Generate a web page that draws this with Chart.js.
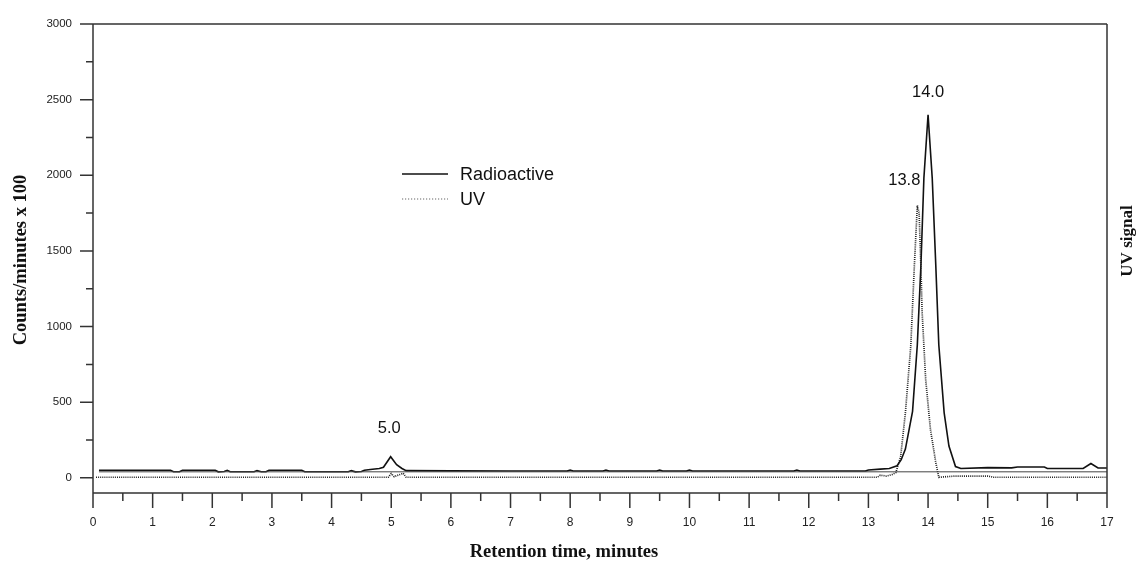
<!DOCTYPE html>
<html>
<head>
<meta charset="utf-8">
<script src="https://cdn.jsdelivr.net/npm/chart.js@4.4.1/dist/chart.umd.min.js"></script>
<style>
  html, body { margin: 0; padding: 0; background: #ffffff; }
  #wrap { width: 1137px; height: 563px; position: relative; }
</style>
</head>
<body>
<div id="wrap"><canvas id="c" width="1137" height="563"></canvas></div>
<script>
// ---------------- data ----------------
const radTime = [0.1, 1.3, 1.35, 1.45, 1.5, 2.05, 2.1, 2.2, 2.25, 2.3, 2.7, 2.75, 2.82, 2.9, 2.95, 3.5, 3.55, 4.28, 4.33, 4.4, 4.5, 4.55, 4.65, 4.8, 4.87, 4.99, 5.09, 5.18, 5.25, 6.0, 7.0, 7.95, 8.0, 8.05, 8.55, 8.6, 8.65, 9.45, 9.5, 9.55, 9.95, 10.0, 10.05, 11.75, 11.8, 11.85, 12.95, 13.0, 13.2, 13.35, 13.48, 13.55, 13.62, 13.74, 13.82, 13.88, 13.93, 14.0, 14.07, 14.13, 14.18, 14.27, 14.35, 14.46, 14.55, 15.0, 15.4, 15.5, 15.95, 16.0, 16.6, 16.73, 16.85, 17.0];
const radValue = [50, 50, 40, 40, 50, 50, 40, 42, 50, 40, 40, 48, 40, 40, 50, 50, 40, 40, 48, 40, 42, 50, 55, 62, 70, 140, 87, 62, 48, 46, 45, 45, 52, 45, 45, 52, 45, 45, 52, 45, 45, 52, 45, 45, 52, 45, 45, 52, 58, 62, 80, 120, 190, 440, 880, 1400, 1980, 2400, 1980, 1400, 880, 430, 210, 75, 62, 68, 66, 72, 72, 62, 62, 95, 65, 65];

const uvTime = [0.05, 4.95, 5.0, 5.05, 5.2, 5.25, 13.15, 13.2, 13.3, 13.4, 13.46, 13.54, 13.62, 13.71, 13.77, 13.82, 13.85, 13.88, 13.9, 13.96, 14.04, 14.13, 14.18, 14.45, 15.0, 15.1, 17.0];
const uvValue = [4, 4, 28, 8, 30, 4, 4, 18, 12, 22, 35, 140, 430, 870, 1400, 1800, 1750, 1400, 1100, 650, 320, 100, 4, 12, 12, 4, 4];

const baseTime = [0.1, 17.0];
const baseValue = [40, 40];

const seriesNames = ['Radioactive', 'UV'];

const xTickValues = [0, 1, 2, 3, 4, 5, 6, 7, 8, 9, 10, 11, 12, 13, 14, 15, 16, 17];
const xMinorTicks = [0.5, 1.5, 2.5, 3.5, 4.5, 5.5, 6.5, 7.5, 8.5, 9.5, 10.5, 11.5, 12.5, 13.5, 14.5, 15.5, 16.5];
const yTickValues = [0, 500, 1000, 1500, 2000, 2500, 3000];
const yMinorTicks = [250, 750, 1250, 1750, 2250, 2750];

const peakLabels = ['5.0', '13.8', '14.0'];
const peakTimes = [5.0, 13.82, 14.0];
const peakHeights = [140, 1800, 2400];

const xTitle = 'Retention time, minutes';
const yTitle = 'Counts/minutes x 100';
const y2Title = 'UV signal';

// ---------------- helpers ----------------
const toPts = (t, v) => t.map((x, i) => ({ x: x, y: v[i] }));
const AXIS = '#333333';

const framePlugin = {
  id: 'frame',
  afterDraw(chart) {
    const ctx = chart.ctx;
    const xs = chart.scales.x, ys = chart.scales.y;
    const L = chart.chartArea.left, R = chart.chartArea.right;
    const T = chart.chartArea.top, B = chart.chartArea.bottom;
    ctx.save();
    ctx.strokeStyle = AXIS;
    ctx.lineWidth = 1.5;
    ctx.beginPath();
    ctx.moveTo(L - 13, T); ctx.lineTo(R, T);
    ctx.moveTo(L, T); ctx.lineTo(L, B + 15);
    ctx.moveTo(R, T); ctx.lineTo(R, B + 15);
    ctx.moveTo(L, B); ctx.lineTo(R, B);
    yTickValues.forEach(v => { const p = ys.getPixelForValue(v); ctx.moveTo(L - 13, p); ctx.lineTo(L, p); });
    yMinorTicks.forEach(v => { const p = ys.getPixelForValue(v); ctx.moveTo(L - 7, p); ctx.lineTo(L, p); });
    xTickValues.forEach(v => { const p = xs.getPixelForValue(v); ctx.moveTo(p, B); ctx.lineTo(p, B + 15); });
    xMinorTicks.forEach(v => { const p = xs.getPixelForValue(v); ctx.moveTo(p, B); ctx.lineTo(p, B + 8); });
    ctx.stroke();

    ctx.fillStyle = '#111';
    ctx.font = 'bold 18.5px "Liberation Serif", "Times New Roman", serif';
    ctx.textAlign = 'center';
    ctx.textBaseline = 'middle';
    ctx.fillText(xTitle, 564, 552);
    ctx.save();
    ctx.translate(21, 260);
    ctx.rotate(-Math.PI / 2);
    ctx.fillText(yTitle, 0, 0);
    ctx.restore();
    ctx.save();
    ctx.font = 'bold 17px "Liberation Serif", "Times New Roman", serif';
    ctx.translate(1128, 241);
    ctx.rotate(-Math.PI / 2);
    ctx.fillText(y2Title, 0, 0);
    ctx.restore();

    ctx.lineWidth = 1.5;
    ctx.strokeStyle = '#111';
    ctx.setLineDash([]);
    ctx.beginPath(); ctx.moveTo(402, 174); ctx.lineTo(448, 174); ctx.stroke();
    ctx.strokeStyle = '#666';
    ctx.lineWidth = 1.2;
    ctx.setLineDash([1.2, 1.8]);
    ctx.beginPath(); ctx.moveTo(402, 199); ctx.lineTo(448, 199); ctx.stroke();
    ctx.setLineDash([]);
    ctx.fillStyle = '#111';
    ctx.font = '18px "Liberation Sans", Arial, sans-serif';
    ctx.textAlign = 'left';
    ctx.fillText(seriesNames[0], 460, 175);
    ctx.fillText(seriesNames[1], 460, 200);

    ctx.font = '16.5px "Liberation Sans", Arial, sans-serif';
    const offs = [{ dx: -2, dy: -28, a: 'center' }, { dx: 3, dy: -25, a: 'right' }, { dx: 0, dy: -22, a: 'center' }];
    peakLabels.forEach((lab, i) => {
      const px = xs.getPixelForValue(peakTimes[i]) + offs[i].dx;
      const py = ys.getPixelForValue(peakHeights[i]) + offs[i].dy;
      ctx.textAlign = offs[i].a;
      ctx.fillText(lab, px, py);
    });
    ctx.restore();
  }
};

new Chart(document.getElementById('c'), {
  type: 'line',
  data: {
    datasets: [
      { label: 'baseline', data: toPts(baseTime, baseValue), borderColor: '#444', borderWidth: 1, pointRadius: 0, pointHoverRadius: 0, tension: 0 },
      { label: seriesNames[1], data: toPts(uvTime, uvValue), borderColor: '#222', borderWidth: 1.7, borderDash: [1, 1.1], pointRadius: 0, pointHoverRadius: 0, tension: 0 },
      { label: seriesNames[0], data: toPts(radTime, radValue), borderColor: '#111', borderWidth: 1.6, pointRadius: 0, pointHoverRadius: 0, tension: 0 }
    ]
  },
  options: {
    responsive: false,
    animation: false,
    devicePixelRatio: 1,
    layout: { autoPadding: false, padding: { top: 24, right: 30, left: 0, bottom: 0 } },
    plugins: { legend: { display: false }, tooltip: { enabled: false } },
    scales: {
      x: {
        type: 'linear', min: 0, max: 17,
        afterFit: s => { s.height = 70; s.paddingLeft = 0; s.paddingRight = 0; },
        afterBuildTicks: s => { s.ticks = xTickValues.map(v => ({ value: v })); },
        grid: { display: false, drawTicks: false },
        border: { display: false },
        ticks: { padding: 22, color: '#222', font: { family: '"Liberation Sans", Arial, sans-serif', size: 12 }, maxRotation: 0, autoSkip: false, callback: v => String(v) }
      },
      y: {
        type: 'linear', min: -100, max: 3000,
        afterFit: s => { s.width = 93; s.paddingTop = 0; s.paddingBottom = 0; },
        afterBuildTicks: s => { s.ticks = yTickValues.map(v => ({ value: v })); },
        grid: { display: false, drawTicks: false },
        border: { display: false },
        ticks: { padding: 21, color: '#222', font: { family: '"Liberation Sans", Arial, sans-serif', size: 11.5 }, autoSkip: false, callback: v => String(v) }
      }
    }
  },
  plugins: [framePlugin]
});
</script>
</body>
</html>
